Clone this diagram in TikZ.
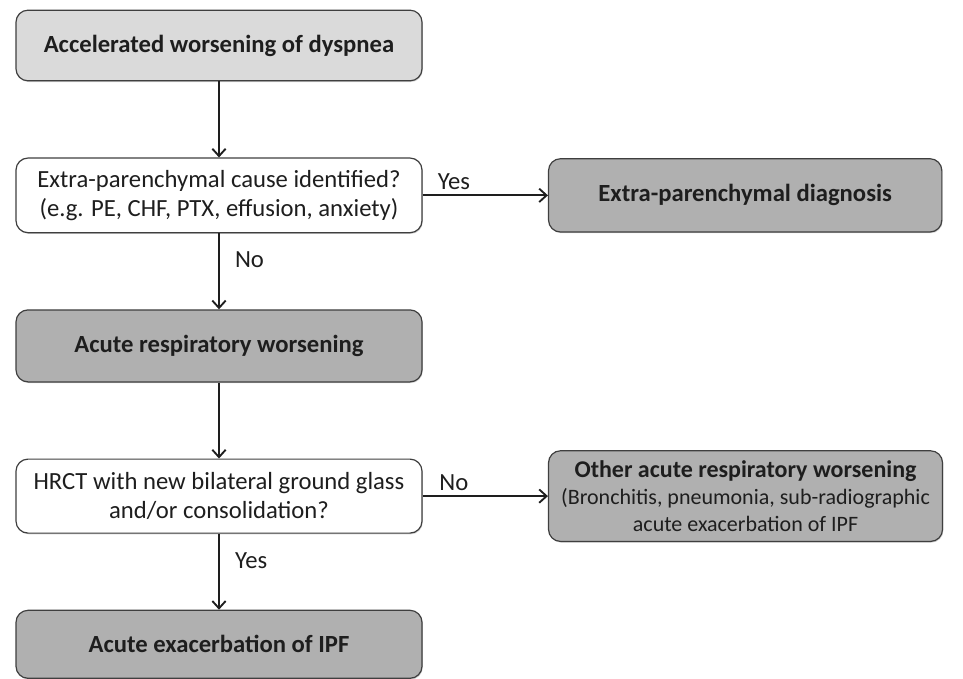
\documentclass[tikz,border=0pt]{standalone}
\usepackage{fontspec}
\setmainfont{Carlito}
\usetikzlibrary{positioning,arrows.meta,shadows}
\definecolor{lightbox}{HTML}{DADADA}
\definecolor{darkbox}{HTML}{B0B0B0}
\definecolor{boxline}{HTML}{3F3F3F}
\definecolor{ink}{HTML}{1E1E1E}

\begin{document}
\begin{tikzpicture}[x=0.75pt, y=-0.75pt, node distance=57pt and 94pt, every node/.style={font=\fontsize{18.5}{22}\selectfont, text=ink}]
    % Styles
    \tikzstyle{box} = [rectangle, rounded corners=9pt, draw=boxline, line width=0.9pt, align=center, text centered, minimum width=304.5pt, inner sep=2pt, drop shadow={shadow xshift=0.6pt, shadow yshift=-0.9pt, opacity=0.35}]
    \tikzstyle{start} = [box, fill=lightbox]
    \tikzstyle{question} = [box, fill=white]
    \tikzstyle{result} = [box, fill=darkbox]
    \tikzstyle{arrow} = [line width=1.4pt, draw=ink, -{Straight Barb[length=5.5pt, width=10pt]}]

    \useasboundingbox (0,0) rectangle (963,678);

    % Nodes
    \node (dyspnea) [start, minimum height=53pt] at (219,45.5) {\textbf{Accelerated worsening of dyspnea}};
    \node (extra) [question, below=of dyspnea, minimum height=56pt] {Extra-parenchymal cause identified?\\(e.g. PE, CHF, PTX, effusion, anxiety)};
    \node (extradiag) [result, right=of extra, minimum width=295pt, minimum height=55pt] {\textbf{Extra-parenchymal diagnosis}};
    \node (acute) [result, below=of extra, minimum height=54pt] {\textbf{Acute respiratory worsening}};
    \node (hrct) [question, below=of acute, minimum height=55.5pt] {HRCT with new bilateral ground glass\\and/or consolidation?};
    \node (other) [result, right=of hrct, minimum width=295.5pt, minimum height=68pt, font=\fontsize{16.5}{20}\selectfont] {{\fontsize{18}{20}\selectfont\textbf{Other acute respiratory worsening}}\\(Bronchitis, pneumonia, sub-radiographic\\acute exacerbation of IPF};
    \node (ipf) [result, below=of hrct, minimum height=51pt] {\textbf{Acute exacerbation of IPF}};

    % Arrows
    \draw [arrow] (dyspnea) -- (extra);
    \draw [arrow] (extra) -- node[above, pos=0.25] {Yes} (extradiag);
    \draw [arrow] (extra) -- node[right=8pt, pos=0.35] {No} (acute);
    \draw [arrow] (acute) -- (hrct);
    \draw [arrow] (hrct) -- node[above, pos=0.25] {No} (other);
    \draw [arrow] (hrct) -- node[right=8pt, pos=0.35] {Yes} (ipf);
\end{tikzpicture}
\end{document}
